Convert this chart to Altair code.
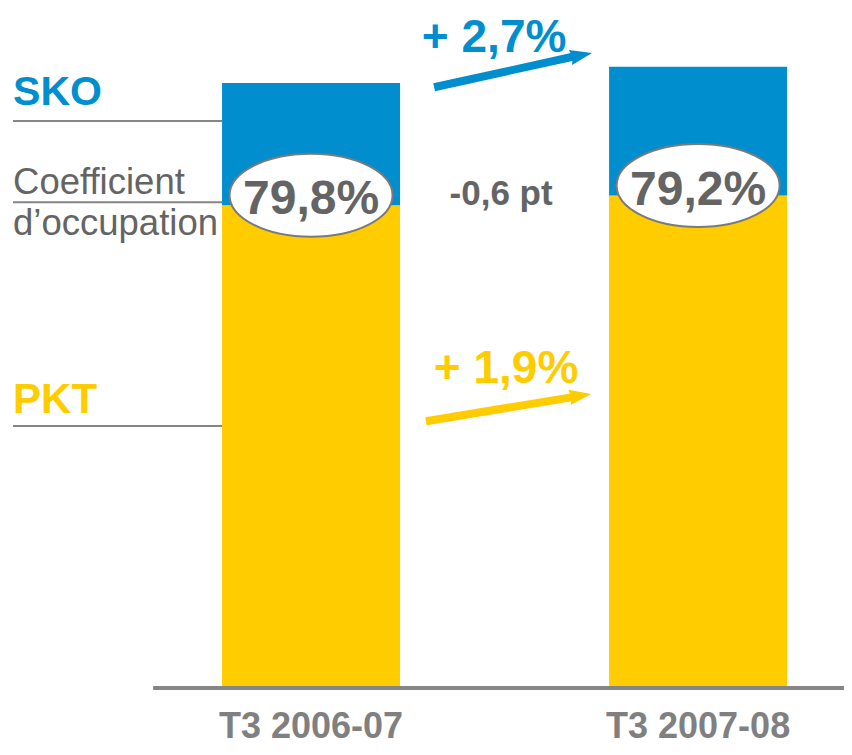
import altair as alt
import pandas as pd

# ---- data ----
categories = ["T3 2006-07", "T3 2007-08"]
positions = [0, 1]
sko = [100.0, 102.7]          # seat-km offered (index)
pkt = [79.8, 81.4]            # passenger-km (index)
load_factor = ["79,8%", "79,2%"]

change_text = ["+ 2,7%", "+ 1,9%", "-0,6 pt"]
change_x = [0.473, 0.504, 0.491]
change_y = [105.2, 50.4, 79.8]

legend_text = ["SKO", "PKT"]
legend_y = [96.4, 45.45]
coef_text = ["Coefficient", "d\u2019occupation"]
coef_y = [81.65, 74.9]
legend_line_y = [93.7, 80.3, 43.3]

# arrows: start, shaft end, tip (data units)
arrow_x1 = [0.318, 0.297]
arrow_y1 = [99.3, 44.1]
arrow_x2 = [0.688, 0.688]
arrow_y2 = [104.5, 48.2]
arrow_tx = [0.726, 0.724]
arrow_ty = [104.96, 48.6]

BLUE = "#008ECE"
YELLOW = "#FFCC00"
GREY_TXT = "#646464"
GREY_LINE = "#858585"
FONT = "Liberation Sans"

W, H = 836, 739
XDOM = [-0.783, 1.377]
YDOM = [(688 - 8 - H) / 6.05, 680 / 6.05]


def X(f):
    return alt.X(f, type="quantitative",
                 scale=alt.Scale(domain=XDOM, nice=False, zero=False, padding=0), axis=None)


def Y(f):
    return alt.Y(f, type="quantitative",
                 scale=alt.Scale(domain=YDOM, nice=False, zero=False, padding=0), axis=None)


bars = pd.DataFrame({"cat": categories, "idx": positions, "sko": sko, "pkt": pkt,
                     "lf": load_factor, "base": [0, 0]})

pkt_bar = alt.Chart(bars).mark_bar(size=178, color=YELLOW).encode(
    x=X("idx"), y=Y("base"), y2="pkt")
sko_bar = alt.Chart(bars).mark_bar(size=178, color=BLUE).encode(
    x=X("idx"), y=Y("pkt"), y2="sko")

ellipse_path = ("M -1 0 C -1 -0.2817 -0.5523 -0.51 0 -0.51 C 0.5523 -0.51 1 -0.2817 1 0 "
                "C 1 0.2817 0.5523 0.51 0 0.51 C -0.5523 0.51 -1 0.2817 -1 0 Z")
ellipses = alt.Chart(bars).mark_point(
    shape=ellipse_path, size=163 * 163, filled=True, fill="white", stroke="#7a7a7a",
    strokeWidth=2, opacity=1, yOffset=-10).encode(x=X("idx"), y=Y("pkt"))
lf_text = alt.Chart(bars).mark_text(
    font=FONT, fontSize=48, fontWeight="bold", color=GREY_TXT, align="center",
    baseline="alphabetic", dy=9).encode(x=X("idx"), y=Y("pkt"), text="lf:N")

cat_labels = alt.Chart(bars.assign(ly=-8.2)).mark_text(
    font=FONT, fontSize=36, fontWeight="bold", color="#808080", align="center",
    baseline="alphabetic").encode(x=X("idx"), y=Y("ly"), text="cat:N")

baseline = alt.Chart(pd.DataFrame({"x": [-0.408], "x2": [XDOM[1]], "y": [0]})).mark_rule(
    color=GREY_LINE, strokeWidth=4).encode(x=X("x"), x2="x2", y=Y("y"))

lines_df = pd.DataFrame({"x": [-0.770] * 3, "x2": [-0.230] * 3, "y": legend_line_y})
legend_lines = alt.Chart(lines_df).mark_rule(color=GREY_LINE, strokeWidth=2).encode(
    x=X("x"), x2="x2", y=Y("y"))

leg_df = pd.DataFrame({"t": legend_text, "x": [-0.770] * 2, "y": legend_y,
                       "c": [BLUE, YELLOW], "s": [41, 42]})
legend_labels = alt.Chart(leg_df).mark_text(
    font=FONT, fontWeight="bold", align="left", baseline="alphabetic").encode(
    x=X("x"), y=Y("y"), text="t:N", color=alt.Color("c:N", scale=None),
    size=alt.Size("s:Q", scale=None))

coef_df = pd.DataFrame({"t": coef_text, "x": [-0.770] * 2, "y": coef_y})
coef_labels = alt.Chart(coef_df).mark_text(
    font=FONT, fontSize=36.5, color=GREY_TXT, align="left", baseline="alphabetic").encode(
    x=X("x"), y=Y("y"), text="t:N")

chg_df = pd.DataFrame({"t": change_text, "x": change_x, "y": change_y,
                       "c": [BLUE, YELLOW, GREY_TXT], "s": [46, 46, 35]})
chg_labels = alt.Chart(chg_df).mark_text(
    font=FONT, fontWeight="bold", align="center", baseline="alphabetic").encode(
    x=X("x"), y=Y("y"), text="t:N", color=alt.Color("c:N", scale=None),
    size=alt.Size("s:Q", scale=None))

arr_df = pd.DataFrame({"x": arrow_x1, "y": arrow_y1, "x2": arrow_x2, "y2": arrow_y2,
                       "tx": arrow_tx, "ty": arrow_ty, "c": [BLUE, YELLOW]})
shafts = alt.Chart(arr_df).mark_rule(strokeWidth=8, strokeCap="butt").encode(
    x=X("x"), y=Y("y"), x2="x2", y2="y2", color=alt.Color("c:N", scale=None))

head_path = "M 0 0 L -2 -0.7 L -1.8 0 L -2 0.7 Z"
head_blue = alt.Chart(arr_df.iloc[[0]]).mark_point(
    shape=head_path, size=484, filled=True, color=BLUE, opacity=1, angle=348).encode(
    x=X("tx"), y=Y("ty"))
head_yellow = alt.Chart(arr_df.iloc[[1]]).mark_point(
    shape=head_path, size=484, filled=True, color=YELLOW, opacity=1, angle=351).encode(
    x=X("tx"), y=Y("ty"))

chart = alt.layer(
    pkt_bar, sko_bar, baseline, legend_lines, ellipses, lf_text, cat_labels,
    legend_labels, coef_labels, chg_labels, shafts, head_blue, head_yellow
).properties(
    width=W, height=H, padding=0, autosize=alt.AutoSizeParams(type="none")
).configure(
    background="white", view=alt.ViewConfig(strokeWidth=0, stroke=None)
)

chart.save("out.html", embed_options={"renderer": "svg", "actions": False})
